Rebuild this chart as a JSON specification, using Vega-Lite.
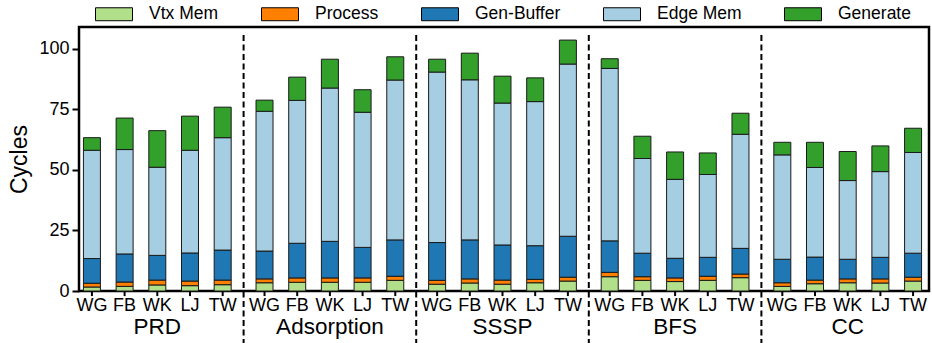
{
  "$schema": "https://vega.github.io/schema/vega-lite/v6.json",
  "width": 850,
  "height": 264,
  "autosize": {"type": "none"},
  "padding": {"left": 79, "top": 27, "right": 3, "bottom": 52},
  "config": {
    "font": "Liberation Sans",
    "view": {"stroke": "black", "strokeWidth": 2.5},
    "axis": {"labelColor": "black", "titleColor": "black", "labelFont": "Liberation Sans", "titleFont": "Liberation Sans"},
    "legend": {"labelColor": "black", "labelFont": "Liberation Sans"}
  },
  "datasets": {
    "stackOrder": [
      {"part": "Vtx Mem", "rank": 1},
      {"part": "Process", "rank": 2},
      {"part": "Gen-Buffer", "rank": 3},
      {"part": "Edge Mem", "rank": 4},
      {"part": "Generate", "rank": 5}
    ]
  },
  "data": {
    "values": [
      {"algo": "PRD", "graph": "WG", "Vtx Mem": 1.65, "Process": 1.55, "Gen-Buffer": 10.2, "Edge Mem": 44.7, "Generate": 5.2},
      {"algo": "PRD", "graph": "FB", "Vtx Mem": 1.9, "Process": 1.8, "Gen-Buffer": 11.6, "Edge Mem": 43.1, "Generate": 13.0},
      {"algo": "PRD", "graph": "WK", "Vtx Mem": 2.5, "Process": 2.0, "Gen-Buffer": 10.2, "Edge Mem": 36.4, "Generate": 15.1},
      {"algo": "PRD", "graph": "LJ", "Vtx Mem": 2.2, "Process": 1.9, "Gen-Buffer": 11.6, "Edge Mem": 42.4, "Generate": 14.1},
      {"algo": "PRD", "graph": "TW", "Vtx Mem": 2.6, "Process": 1.9, "Gen-Buffer": 12.4, "Edge Mem": 46.4, "Generate": 12.6},
      {"algo": "Adsorption", "graph": "WG", "Vtx Mem": 3.4, "Process": 1.6, "Gen-Buffer": 11.5, "Edge Mem": 57.7, "Generate": 4.6},
      {"algo": "Adsorption", "graph": "FB", "Vtx Mem": 3.6, "Process": 1.8, "Gen-Buffer": 14.3, "Edge Mem": 59.0, "Generate": 9.6},
      {"algo": "Adsorption", "graph": "WK", "Vtx Mem": 3.6, "Process": 1.8, "Gen-Buffer": 15.1, "Edge Mem": 63.3, "Generate": 11.9},
      {"algo": "Adsorption", "graph": "LJ", "Vtx Mem": 3.6, "Process": 1.8, "Gen-Buffer": 12.6, "Edge Mem": 55.8, "Generate": 9.3},
      {"algo": "Adsorption", "graph": "TW", "Vtx Mem": 4.4, "Process": 1.7, "Gen-Buffer": 15.0, "Edge Mem": 66.0, "Generate": 9.6},
      {"algo": "SSSP", "graph": "WG", "Vtx Mem": 2.8, "Process": 1.6, "Gen-Buffer": 15.6, "Edge Mem": 70.4, "Generate": 5.3},
      {"algo": "SSSP", "graph": "FB", "Vtx Mem": 3.3, "Process": 1.7, "Gen-Buffer": 16.1, "Edge Mem": 66.1, "Generate": 11.0},
      {"algo": "SSSP", "graph": "WK", "Vtx Mem": 2.8, "Process": 1.7, "Gen-Buffer": 14.5, "Edge Mem": 58.6, "Generate": 11.1},
      {"algo": "SSSP", "graph": "LJ", "Vtx Mem": 3.4, "Process": 1.4, "Gen-Buffer": 13.9, "Edge Mem": 59.5, "Generate": 9.8},
      {"algo": "SSSP", "graph": "TW", "Vtx Mem": 4.1, "Process": 1.6, "Gen-Buffer": 16.9, "Edge Mem": 71.1, "Generate": 9.9},
      {"algo": "BFS", "graph": "WG", "Vtx Mem": 5.9, "Process": 1.8, "Gen-Buffer": 13.0, "Edge Mem": 71.2, "Generate": 4.0},
      {"algo": "BFS", "graph": "FB", "Vtx Mem": 4.4, "Process": 1.5, "Gen-Buffer": 9.7, "Edge Mem": 39.1, "Generate": 9.2},
      {"algo": "BFS", "graph": "WK", "Vtx Mem": 3.9, "Process": 1.5, "Gen-Buffer": 8.1, "Edge Mem": 32.6, "Generate": 11.3},
      {"algo": "BFS", "graph": "LJ", "Vtx Mem": 4.4, "Process": 1.7, "Gen-Buffer": 7.8, "Edge Mem": 34.2, "Generate": 8.9},
      {"algo": "BFS", "graph": "TW", "Vtx Mem": 5.5, "Process": 1.5, "Gen-Buffer": 10.6, "Edge Mem": 47.1, "Generate": 8.7},
      {"algo": "CC", "graph": "WG", "Vtx Mem": 1.9, "Process": 1.5, "Gen-Buffer": 9.7, "Edge Mem": 43.1, "Generate": 5.2},
      {"algo": "CC", "graph": "FB", "Vtx Mem": 3.0, "Process": 1.5, "Gen-Buffer": 9.5, "Edge Mem": 37.0, "Generate": 10.4},
      {"algo": "CC", "graph": "WK", "Vtx Mem": 3.4, "Process": 1.6, "Gen-Buffer": 8.1, "Edge Mem": 32.5, "Generate": 12.0},
      {"algo": "CC", "graph": "LJ", "Vtx Mem": 3.3, "Process": 1.7, "Gen-Buffer": 8.9, "Edge Mem": 35.4, "Generate": 10.6},
      {"algo": "CC", "graph": "TW", "Vtx Mem": 4.1, "Process": 1.6, "Gen-Buffer": 9.9, "Edge Mem": 41.6, "Generate": 10.0}
    ]
  },
  "layer": [
    {
      "transform": [
        {"fold": ["Vtx Mem", "Process", "Gen-Buffer", "Edge Mem", "Generate"], "as": ["part", "cycles"]},
        {"lookup": "part", "from": {"data": {"name": "stackOrder"}, "key": "part", "fields": ["rank"]}}
      ],
      "mark": {"type": "bar", "stroke": "#1a1a1a", "strokeWidth": 1},
      "encoding": {
        "x": {
          "field": "algo", "type": "nominal",
          "sort": ["PRD", "Adsorption", "SSSP", "BFS", "CC"],
          "scale": {"range": [-8, 855], "paddingInner": 0, "paddingOuter": 0},
          "axis": {"title": null, "domain": false, "ticks": false, "tickSize": 0, "labelAngle": 0, "labelFontSize": 22.5, "labelPadding": 24}
        },
        "xOffset": {
          "field": "graph", "type": "nominal",
          "sort": ["WG", "FB", "WK", "LJ", "TW"],
          "scale": {"paddingInner": 0.48, "paddingOuter": 0.38}
        },
        "y": {
          "aggregate": "sum", "field": "cycles", "type": "quantitative",
          "scale": {"domain": [0, 109], "nice": false},
          "axis": {
            "title": "Cycles", "titleFontSize": 23, "titleFontWeight": "normal", "titlePadding": 7,
            "values": [0, 25, 50, 75, 100], "grid": false, "domain": false,
            "tickColor": "black", "tickWidth": 2, "tickSize": 7,
            "labelFontSize": 18, "labelPadding": 3
          }
        },
        "order": {"field": "rank", "type": "quantitative", "sort": "ascending"},
        "color": {
          "field": "part", "type": "nominal",
          "sort": ["Vtx Mem", "Process", "Gen-Buffer", "Edge Mem", "Generate"],
          "scale": {"range": ["#b2df8a", "#ff7f00", "#1f78b4", "#a6cee3", "#33a02c"]},
          "legend": {
            "title": null, "orient": "none", "legendX": 16, "legendY": -32,
            "direction": "horizontal", "columns": 5, "columnPadding": 40,
            "symbolType": "M-1,-0.35H1V0.35H-1Z", "symbolSize": 1369,
            "symbolStrokeColor": "black", "symbolStrokeWidth": 1, "symbolOpacity": 1,
            "labelFontSize": 17.5, "labelOffset": 16
          }
        }
      }
    },
    {
      "mark": {"type": "rule", "color": "black", "strokeWidth": 2},
      "encoding": {
        "x": {"field": "algo", "type": "nominal", "sort": ["PRD", "Adsorption", "SSSP", "BFS", "CC"]},
        "xOffset": {"field": "graph", "type": "nominal", "sort": ["WG", "FB", "WK", "LJ", "TW"]},
        "y": {"datum": 0, "type": "quantitative"},
        "y2": {"datum": -2.1}
      }
    },
    {
      "mark": {"type": "text", "fontSize": 18, "baseline": "middle", "align": "center", "color": "black"},
      "encoding": {
        "x": {"field": "algo", "type": "nominal", "sort": ["PRD", "Adsorption", "SSSP", "BFS", "CC"]},
        "xOffset": {"field": "graph", "type": "nominal", "sort": ["WG", "FB", "WK", "LJ", "TW"]},
        "y": {"datum": -6.3, "type": "quantitative"},
        "text": {"field": "graph"}
      }
    },
    {
      "data": {"values": [{"algo": "Adsorption"}, {"algo": "SSSP"}, {"algo": "BFS"}, {"algo": "CC"}]},
      "mark": {"type": "rule", "color": "black", "strokeWidth": 2, "strokeDash": [6, 3.5]},
      "encoding": {
        "x": {"field": "algo", "type": "nominal", "bandPosition": 0, "sort": ["PRD", "Adsorption", "SSSP", "BFS", "CC"]},
        "y": {"datum": 105.7, "type": "quantitative"},
        "y2": {"datum": -22}
      }
    }
  ]
}
